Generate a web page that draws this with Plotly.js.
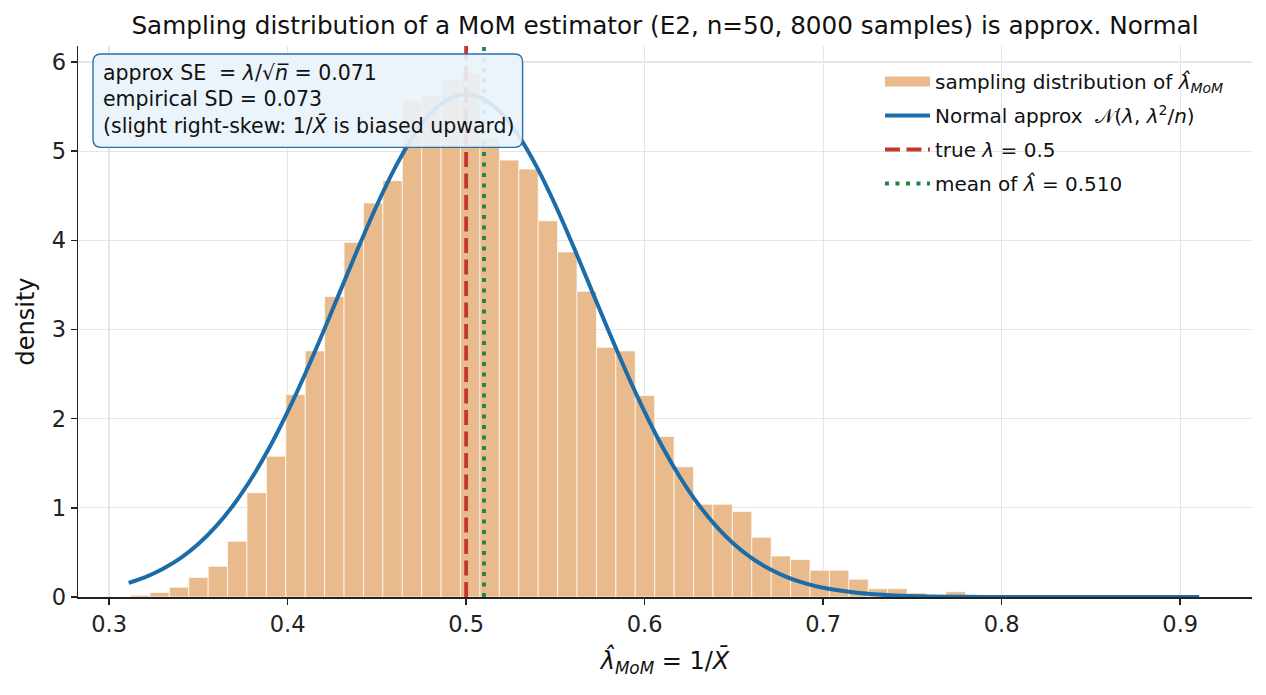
<!DOCTYPE html>
<html>
<head>
<meta charset="utf-8">
<script src="https://cdn.plot.ly/plotly-3.0.1.min.js"></script>
<style>
html,body{margin:0;padding:0;background:#fff;}
#chart{width:1266px;height:695px;}
</style>
</head>
<body>
<div id="chart"></div>
<script>
// ---- data ----
const binCenters = [0.31744,0.32831,0.33919,0.35006,0.36094,0.37181,0.38269,0.39356,0.40444,0.41531,
  0.42619,0.43706,0.44794,0.45881,0.46969,0.48056,0.49144,0.50231,0.51319,0.52406,
  0.53494,0.54581,0.55669,0.56756,0.57844,0.58931,0.60019,0.61106,0.62194,0.63281,
  0.64369,0.65456,0.66544,0.67631,0.68719,0.69806,0.70894,0.71981,0.73069,0.74156,
  0.75244,0.76331,0.77419,0.78506,0.79594,0.80681,0.81769,0.82856,0.83944,0.85031,
  0.86119,0.87206,0.88294,0.89381,0.90469];
const binWidth = 0.010875;
const density = [0.02,0.05,0.11,0.22,0.345,0.626,1.17,1.58,2.27,2.76,
  3.37,3.98,4.42,4.67,5.57,5.63,5.80,5.88,5.15,4.90,
  4.80,4.22,3.87,3.43,2.80,2.76,2.26,1.80,1.46,1.04,
  1.04,0.96,0.67,0.46,0.42,0.30,0.30,0.20,0.093,0.093,
  0.045,0.012,0.06,0,0,0,0,0,0,0,
  0,0,0,0,0.012];

const curveX = [0.311,0.32,0.33,0.34,0.35,0.36,0.37,0.38,0.39,0.40,
  0.41,0.42,0.43,0.44,0.45,0.46,0.47,0.48,0.49,0.50,
  0.51,0.52,0.53,0.54,0.55,0.56,0.57,0.58,0.59,0.60,
  0.61,0.62,0.63,0.64,0.65,0.66,0.67,0.68,0.69,0.70,
  0.72,0.74,0.76,0.78,0.80,0.85,0.9106];
const curveY = [0.159,0.221,0.314,0.436,0.595,0.795,1.041,1.337,1.682,2.076,
  2.510,2.975,3.456,3.936,4.394,4.808,5.156,5.421,5.586,5.642,
  5.586,5.421,5.156,4.808,4.394,3.936,3.456,2.975,2.510,2.076,
  1.682,1.337,1.041,0.795,0.595,0.436,0.314,0.221,0.153,0.103,
  0.0446,0.0178,0.0065,0.0022,0.0007,0.00003,0];

const trueLambda = 0.5;
const meanLambda = 0.510;
const xTickVals = [0.3,0.4,0.5,0.6,0.7,0.8,0.9];
const xTickText = ["0.3","0.4","0.5","0.6","0.7","0.8","0.9"];
const yTickVals = [0,1,2,3,4,5,6];
const yTickText = ["0","1","2","3","4","5","6"];
const boxLines = [
  "approx SE  = <i>λ</i>/√<i>n̅</i> = 0.071",
  "empirical SD = 0.073",
  "(slight right-skew: 1/<i>X̄</i> is biased upward)"
];
const legendNames = [
  "sampling distribution of <i>λ̂</i><sub><i>MoM</i></sub>",
  "Normal approx  𝒩(<i>λ</i>, <i>λ</i><sup>2</sup>/<i>n</i>)",
  "true <i>λ</i> = 0.5",
  "mean of <i>λ̂</i> = 0.510"
];

// ---- styling ----
const FONT = "DejaVu Sans, Liberation Sans, sans-serif";
const barColor = "#e9ba8b";
const blue = "#1b6ca8";
const red = "#c0392b";
const green = "#1e8449";
const yRange = [0, 6.18];
const xRange = [0.2826, 0.9402];

const traces = [
  {type:"bar", x: binCenters, y: density, width: binWidth,
   marker:{color: barColor, line:{color:"rgba(255,255,255,0.9)", width:0.8}},
   showlegend:false, hoverinfo:"skip"},
  {type:"scatter", mode:"lines", x:[null], y:[null], name: legendNames[0],
   line:{color: barColor, width: 13}, legendgroup:"g1", showlegend:true},
  {type:"scatter", mode:"lines", x: curveX, y: curveY, name: legendNames[1],
   line:{color: blue, width: 4, shape:"spline", smoothing:0.6}, legendgroup:"g2"},
  {type:"scatter", mode:"lines", x:[trueLambda, trueLambda], y: yRange, name: legendNames[2],
   line:{color: red, width: 3.8, dash:"15px,6.5px"}, legendgroup:"g3"},
  {type:"scatter", mode:"lines", x:[meanLambda, meanLambda], y: yRange, name: legendNames[3],
   line:{color: green, width: 3.8, dash:"4px,6.5px"}, legendgroup:"g4"}
];

// rounded annotation box (paper coords)
const W = 1174, H = 551;
const bx0 = 0.01278, bx1 = 0.3787, by0 = 0.8161, by1 = 0.9855;
const rx = 8/W, ry = 8/H;
const boxPath = `M${bx0+rx},${by1} L${bx1-rx},${by1} Q${bx1},${by1} ${bx1},${by1-ry} L${bx1},${by0+ry} Q${bx1},${by0} ${bx1-rx},${by0} L${bx0+rx},${by0} Q${bx0},${by0} ${bx0},${by0+ry} L${bx0},${by1-ry} Q${bx0},${by1} ${bx0+rx},${by1} Z`;

const boxYs = [0.9505, 0.9033, 0.8566];
const annotations = boxLines.map((t,i)=>({
  xref:"paper", yref:"paper", x:0.0195, y:boxYs[i], xanchor:"left", yanchor:"middle",
  text:t, showarrow:false, font:{family:FONT, size:20.5, color:"#111"}
}));

const layout = {
  width:1266, height:695,
  margin:{l:78, r:14, t:46, b:98},
  paper_bgcolor:"#fff", plot_bgcolor:"#fff",
  font:{family:FONT, color:"#111"},
  bargap:0,
  title:{text:"Sampling distribution of a MoM estimator (E2, n=50, 8000 samples) is approx. Normal",
    font:{family:FONT, size:24.7, color:"#111"}, x:0.5, xref:"paper", y:0.964, yref:"container", yanchor:"middle"},
  xaxis:{range:xRange, tickvals:xTickVals, ticktext:xTickText,
    showline:true, linecolor:"#222", linewidth:1.5, ticks:"outside", ticklen:6, tickwidth:1.5, tickcolor:"#222",
    showgrid:true, gridcolor:"#e6e6e6", gridwidth:1.2, zeroline:false,
    tickfont:{family:FONT, size:22.5, color:"#222"},
    title:{text:"<i>λ̂</i><sub><i>MoM</i></sub> = 1/<i>X̄</i>", font:{family:FONT, size:24, color:"#111"}, standoff:16}},
  yaxis:{range:yRange, tickvals:yTickVals, ticktext:yTickText,
    showline:true, linecolor:"#222", linewidth:1.5, ticks:"outside", ticklen:6, tickwidth:1.5, tickcolor:"#222",
    showgrid:true, gridcolor:"#e6e6e6", gridwidth:1.2, zeroline:false,
    tickfont:{family:FONT, size:22.5, color:"#222"},
    title:{text:"density", font:{family:FONT, size:24, color:"#111"}, standoff:10}},
  legend:{x:0.6831, y:0.971, xanchor:"left", yanchor:"top", bgcolor:"rgba(0,0,0,0)", borderwidth:0,
    font:{family:FONT, size:20, color:"#111"}, itemwidth:45, traceorder:"grouped", tracegroupgap:5},
  shapes:[{type:"path", xref:"paper", yref:"paper", path: boxPath, layer:"above",
    fillcolor:"rgba(234,243,251,0.9)", line:{color:"#2a6fa8", width:1.4}}],
  annotations: annotations,
  hovermode:false
};

Plotly.newPlot("chart", traces, layout, {displayModeBar:false, staticPlot:true});
</script>
</body>
</html>
